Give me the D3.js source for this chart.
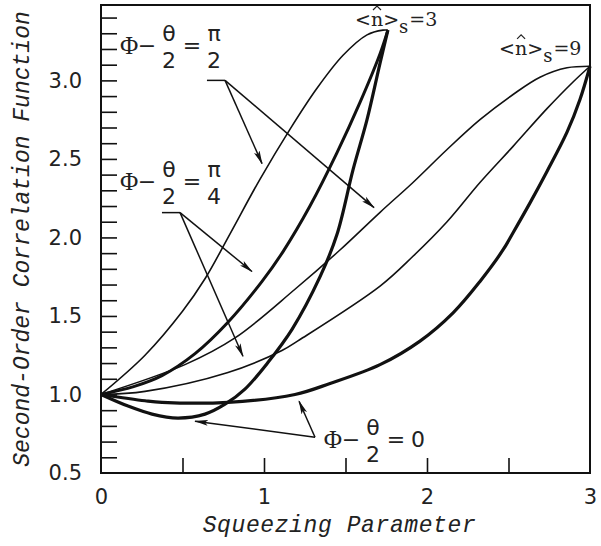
<!DOCTYPE html>
<html>
<head>
<meta charset="utf-8">
<script src="https://cdn.jsdelivr.net/npm/d3@7"></script>
<style>
body{margin:0;background:#fff}
svg{display:block}
</style>
</head>
<body>
<div class="chart"></div>
<script>
// curves: [squeezing parameter, g2]
var n3Half    = [[0,1.0],[0.27,1.25],[0.5,1.53],[0.64,1.74],[0.79,2.02],[0.975,2.37],[1.16,2.69],[1.325,2.95],[1.485,3.16],[1.632,3.29],[1.73,3.32],[1.76,3.32]];
var n3Quarter = [[0,1.0],[0.2,1.05],[0.374,1.12],[0.577,1.26],[0.779,1.46],[0.988,1.72],[1.117,1.91],[1.282,2.2],[1.448,2.54],[1.589,2.86],[1.712,3.17],[1.76,3.32]];
var n3Zero    = [[0,1.0],[0.166,0.926],[0.313,0.875],[0.472,0.85],[0.638,0.875],[0.761,0.938],[0.883,1.034],[1.025,1.205],[1.172,1.415],[1.344,1.75],[1.448,2.02],[1.546,2.43],[1.632,2.75],[1.712,3.11],[1.76,3.32]];
var n9Half    = [[0,1.0],[0.515,1.19],[0.822,1.36],[1.19,1.67],[1.466,1.92],[1.712,2.16],[1.914,2.35],[2.123,2.56],[2.325,2.75],[2.528,2.91],[2.693,3.02],[2.859,3.08],[3.0,3.09]];
var n9Quarter = [[0,1.0],[0.27,1.02],[0.779,1.14],[1.11,1.28],[1.221,1.35],[1.712,1.69],[1.914,1.88],[2.123,2.10],[2.325,2.35],[2.528,2.58],[2.736,2.82],[2.896,2.99],[3.0,3.09]];
var n9Zero    = [[0,1.0],[0.27,0.96],[0.374,0.95],[0.779,0.95],[1.19,1.0],[1.405,1.07],[1.712,1.19],[1.957,1.34],[2.16,1.52],[2.325,1.72],[2.466,1.92],[2.528,2.03],[2.632,2.22],[2.736,2.42],[2.859,2.67],[2.939,2.88],[3.0,3.09]];

var xLabelTicks = [0,1,2,3];
var xMarkTicks = [0.5,1,1.5,2,2.5];
var yLabelTicks = [0.5,1.0,1.5,2.0,2.5,3.0];
var yMarkTicks = d3.range(6,35).map(function(d){return d/10});

// annotation arrows: [from, to] in data units
var arrowsHalf    = [[[0.761,3.0],[0.988,2.47]],[[0.761,3.0],[1.675,2.19]]];
var arrowsQuarter = [[[0.485,2.158],[0.926,1.783]],[[0.485,2.158],[0.871,1.243]]];
var arrowsZero    = [[[1.313,0.728],[0.577,0.83]],[[1.313,0.728],[1.215,0.957]]];

var width = 601, height = 546
var svg = d3.select(".chart").append("svg").attr("width",width).attr("height",height)

var x = d3.scaleLinear().domain([0,3]).range([101,590])
var y = d3.scaleLinear().domain([0.5,3.48]).range([473,5])

var numFont = "'DejaVu Sans', sans-serif"
var serifFont = "'DejaVu Serif', serif"
var titleFont = "'Liberation Mono', 'Courier New', monospace"

// minor ticks on the left, inside the box
svg.append("g").attr("transform","translate("+x(0)+",0)")
	.call(d3.axisRight(y).tickValues(yMarkTicks).tickSize(16).tickFormat(""))
	.call(function(g){g.select(".domain").remove()})
	.selectAll("line").attr("stroke","#111").attr("stroke-width",1.6)

svg.append("g").attr("transform","translate("+x(0)+",0)")
	.call(d3.axisLeft(y).tickValues(yLabelTicks).tickSize(0).tickPadding(19).tickFormat(d3.format(".1f")))
	.call(function(g){g.select(".domain").remove()})
	.selectAll("text").attr("font-family",numFont).attr("font-size",21).attr("fill","#222")

svg.append("g").attr("transform","translate(0,"+y(0.5)+")")
	.call(d3.axisTop(x).tickValues(xMarkTicks).tickSize(15).tickFormat(""))
	.call(function(g){g.select(".domain").remove()})
	.selectAll("line").attr("stroke","#111").attr("stroke-width",1.6)

svg.append("g").attr("transform","translate(0,"+y(0.5)+")")
	.call(d3.axisBottom(x).tickValues(xLabelTicks).tickSize(0).tickPadding(16).tickFormat(d3.format("d")))
	.call(function(g){g.select(".domain").remove()})
	.selectAll("text").attr("font-family",numFont).attr("font-size",21).attr("fill","#222")

// frame
svg.append("rect")
	.attr("x",x(0)).attr("y",y(3.48))
	.attr("width",x(3)-x(0)).attr("height",y(0.5)-y(3.48))
	.attr("fill","none").attr("stroke","#111").attr("stroke-width",2)

// curves
var line = d3.line().x(function(d){return x(d[0])}).y(function(d){return y(d[1])}).curve(d3.curveCatmullRom.alpha(0.5))
var curves = [
	{data:n3Half, w:1.6},
	{data:n3Quarter, w:3},
	{data:n3Zero, w:3.2},
	{data:n9Half, w:1.6},
	{data:n9Quarter, w:1.6},
	{data:n9Zero, w:3.2}
]
svg.append("g").attr("class","curves").selectAll("path").data(curves).enter().append("path")
	.attr("d",function(d){return line(d.data)})
	.attr("fill","none")
	.attr("stroke","#111")
	.attr("stroke-width",function(d){return d.w})
	.attr("stroke-linejoin","round")

// arrows
svg.append("defs").append("marker")
	.attr("id","head").attr("markerUnits","userSpaceOnUse")
	.attr("markerWidth",14).attr("markerHeight",8)
	.attr("viewBox","0 -4 14 8").attr("refX",13).attr("refY",0)
	.attr("orient","auto")
	.append("path").attr("d","M0,-3L14,0L0,3L3,0Z").attr("fill","#111")

var allArrows = arrowsHalf.concat(arrowsQuarter).concat(arrowsZero)
svg.append("g").attr("class","arrows").selectAll("line").data(allArrows).enter().append("line")
	.attr("x1",function(d){return x(d[0][0])}).attr("y1",function(d){return y(d[0][1])})
	.attr("x2",function(d){return x(d[1][0])}).attr("y2",function(d){return y(d[1][1])})
	.attr("stroke","#111").attr("stroke-width",1.5)
	.attr("marker-end","url(#head)")

// short bars the arrows start from
var stubs = [[[0.65,3.0],[0.761,3.0]],[[0.374,2.158],[0.485,2.158]]]
svg.append("g").selectAll("line").data(stubs).enter().append("line")
	.attr("x1",function(d){return x(d[0][0])}).attr("y1",function(d){return y(d[0][1])})
	.attr("x2",function(d){return x(d[1][0])}).attr("y2",function(d){return y(d[1][1])})
	.attr("stroke","#111").attr("stroke-width",1.5)

// phase labels  Φ − θ/2 = ...
function phaseLabel(px, py, num, den){
	var g = svg.append("g").attr("transform","translate("+x(px)+","+y(py)+")")
		.attr("fill","#222").attr("font-family",numFont).attr("font-size",22)
		.attr("text-anchor","middle").attr("dominant-baseline","central")
	g.append("text").attr("x",0).attr("y",0).attr("font-family","'Liberation Serif', serif").attr("font-size",25).text("Φ")
	g.append("text").attr("x",18).attr("y",0).text("−")
	g.append("text").attr("x",40).attr("y",-12).text("θ")
	g.append("text").attr("x",40).attr("y",15).text("2")
	g.append("text").attr("x",63).attr("y",0).text("=")
	if(den){
		g.append("text").attr("x",85).attr("y",-12).text(num)
		g.append("text").attr("x",85).attr("y",15).text(den)
	} else {
		g.append("text").attr("x",85).attr("y",0).text(num)
	}
}
phaseLabel(0.172,3.219,"π","2")
phaseLabel(0.172,2.355,"π","4")
phaseLabel(1.423,0.716,"0",null)

// <n>_s labels, hat drawn as a small chevron over the n
function photonLabel(px, py, val){
	var t = svg.append("text").attr("x",x(px)).attr("y",y(py))
		.attr("font-family",serifFont).attr("font-size",19).attr("fill","#222")
	t.append("tspan").text("<")
	t.append("tspan").text("n")
	t.append("tspan").text(">")
	t.append("tspan").attr("dy",7).attr("font-size",18).text("s")
	t.append("tspan").attr("dy",-7).attr("dx",1).text("="+val)
	var node = t.node()
	var a = node.getStartPositionOfChar(1).x, b = node.getEndPositionOfChar(1).x
	var mid = (a+b)/2, base = y(py)
	svg.append("path")
		.attr("d","M"+(mid-4)+","+(base-16)+"L"+mid+","+(base-20)+"L"+(mid+4)+","+(base-16))
		.attr("fill","none").attr("stroke","#222").attr("stroke-width",1.2)
}
photonLabel(1.558,3.346,3)
photonLabel(2.442,3.162,9)

// axis titles
svg.append("text")
	.attr("x",(x(0)+x(3))/2 - 6).attr("y",532)
	.attr("text-anchor","middle")
	.attr("font-family",titleFont).attr("font-style","italic").attr("font-size",23)
	.attr("fill","#222").attr("letter-spacing",0.6)
	.text("Squeezing Parameter")

svg.append("text")
	.attr("transform","translate(29,"+(y(0.5)+y(3.48))/2+") rotate(-90)")
	.attr("text-anchor","middle")
	.attr("font-family",titleFont).attr("font-style","italic").attr("font-size",23)
	.attr("fill","#222")
	.text("Second-Order Correlation Function")
</script>
</body>
</html>
